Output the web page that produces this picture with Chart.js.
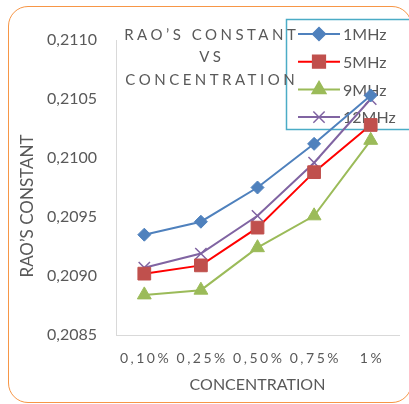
<!DOCTYPE html>
<html>
<head>
<meta charset="utf-8">
<script src="https://cdn.jsdelivr.net/npm/chart.js@4.4.1/dist/chart.umd.min.js"></script>
<style>
  html, body { margin: 0; padding: 0; width: 409px; height: 404px; overflow: hidden; background: #fff; }
  #frame { position: absolute; left: 8px; top: 6px; width: 402px; height: 395px;
           border: 1px solid #F79646; border-radius: 20px; }
  #wrap { position: absolute; left: 0; top: 0; width: 409px; height: 404px; }
</style>
</head>
<body>
<div id="frame"></div>
<div id="wrap"><canvas id="chart" width="409" height="404"></canvas></div>
<script>
// Rao's constant vs concentration
const CATEGORIES = ['0,10%', '0,25%', '0,50%', '0,75%', '1%'];
const MHZ_1  = [0.20935, 0.20946, 0.20975, 0.21012, 0.21053];
const MHZ_5  = [0.20902, 0.20909, 0.20941, 0.20988, 0.21028];
const MHZ_9  = [0.20884, 0.20888, 0.20924, 0.20951, 0.21015];
const MHZ_12 = [0.20907, 0.20919, 0.20951, 0.20996, 0.21050];
const SERIES_NAMES = ['1MHz', '5MHz', '9MHz', '12MHz'];
const Y_MIN = 0.2085, Y_MAX = 0.2110, Y_STEP = 0.0005;
const TITLE_LINES = ['RAO’S CONSTANT', 'VS', 'CONCENTRATION'];
const Y_TITLE = 'RAO’S CONSTANT';
const X_TITLE = 'CONCENTRATION';

const GREY = '#595959';
const FONT = 'Lato, "Open Sans", sans-serif';

const STYLES = [
  { line: '#4F81BD', fill: '#4F81BD', style: 'rectRot',  r: 6.5 },
  { line: '#FF0000', fill: '#C0504D', style: 'rect',     r: 9 },
  { line: '#9BBB59', fill: '#9BBB59', style: 'triangle', r: 8 },
  { line: '#8064A2', fill: '#8064A2', style: 'crossRot', r: 8 }
];

const datasets = [MHZ_1, MHZ_5, MHZ_9, MHZ_12].map((vals, i) => ({
  label: SERIES_NAMES[i],
  data: vals,
  borderColor: STYLES[i].line,
  borderWidth: 2,
  pointStyle: STYLES[i].style,
  pointRadius: STYLES[i].r,
  pointHoverRadius: STYLES[i].r,
  pointBackgroundColor: STYLES[i].fill,
  pointBorderColor: STYLES[i].fill,
  pointBorderWidth: i === 3 ? 1.5 : 1,
  tension: 0
}));

function drawMarker(ctx, s, x, y) {
  const opts = { pointStyle: s.style, radius: s.r, rotation: 0, borderWidth: 1.5 };
  ctx.save();
  ctx.fillStyle = s.fill;
  ctx.strokeStyle = s.fill;
  ctx.lineWidth = 1.5;
  if (Chart.helpers && Chart.helpers.drawPoint) {
    Chart.helpers.drawPoint(ctx, opts, x, y);
  } else {
    ctx.beginPath(); ctx.arc(x, y, s.r * 0.7, 0, Math.PI * 2); ctx.fill();
  }
  ctx.restore();
}

const decor = {
  id: 'decor',
  beforeDatasetsDraw(chart) {
    const ctx = chart.ctx;
    // legend box (drawn under the lines)
    ctx.save();
    ctx.strokeStyle = '#4BACC6';
    ctx.lineWidth = 1.5;
    ctx.strokeRect(286.5, 19.5, 140, 110);
    SERIES_NAMES.forEach((name, i) => {
      const y = 34 + i * 27.7;
      const s = STYLES[i];
      ctx.strokeStyle = s.line;
      ctx.lineWidth = 2;
      ctx.beginPath(); ctx.moveTo(298, y); ctx.lineTo(340, y); ctx.stroke();
      drawMarker(ctx, s, 319, y);
      ctx.fillStyle = GREY;
      ctx.font = '16px ' + FONT;
      ctx.textAlign = 'left';
      ctx.textBaseline = 'middle';
      ctx.fillText(name, 343, y + 1);
    });
    ctx.restore();
  },
  afterDraw(chart) {
    const ctx = chart.ctx;
    const xs = chart.scales.x;
    ctx.save();
    ctx.fillStyle = GREY;
    ctx.textBaseline = 'middle';
    ctx.textAlign = 'left';
    // title with spaced letters
    ctx.font = '15px ' + FONT;
    ctx.letterSpacing = '3.5px';
    TITLE_LINES.forEach((t, i) => {
      const w = ctx.measureText(t).width - 3.5;
      ctx.fillText(t, 210 - w / 2, 35 + i * 22.5);
    });
    // x tick labels with spaced letters
    ctx.font = '14px ' + FONT;
    ctx.letterSpacing = '2.5px';
    CATEGORIES.forEach((c, i) => {
      const w = ctx.measureText(c).width - 2.5;
      ctx.fillText(c, xs.getPixelForValue(i) - w / 2, 358);
    });
    // y title
    ctx.letterSpacing = '0px';
    ctx.font = '17px ' + FONT;
    ctx.translate(28, 206);
    ctx.rotate(-Math.PI / 2);
    ctx.textAlign = 'center';
    ctx.fillText(Y_TITLE, 0, 0);
    ctx.restore();
  }
};

new Chart(document.getElementById('chart'), {
  type: 'line',
  data: { labels: CATEGORIES, datasets },
  options: {
    responsive: false,
    animation: false,
    layout: { padding: { top: 40, right: 8, bottom: 0, left: 0 } },
    plugins: { legend: { display: false }, tooltip: { enabled: false }, title: { display: false } },
    scales: {
      x: {
        offset: true,
        grid: { display: false, drawTicks: false },
        border: { display: true, color: '#D9D9D9', width: 1 },
        ticks: { display: false },
        title: { display: true, text: X_TITLE, color: GREY, font: { family: FONT, size: 16 },
                 padding: { top: 0, bottom: 10 } },
        afterFit(s) { s.height = 69; }
      },
      y: {
        min: Y_MIN, max: Y_MAX,
        grid: { display: false, drawTicks: false },
        border: { display: true, color: '#D9D9D9', width: 1 },
        ticks: {
          stepSize: Y_STEP, padding: 19, color: GREY,
          font: { family: FONT, size: 16 },
          callback: v => v.toFixed(4).replace('.', ',')
        },
        afterFit(s) { s.width = 116; }
      }
    }
  },
  plugins: [decor]
});
</script>
</body>
</html>
